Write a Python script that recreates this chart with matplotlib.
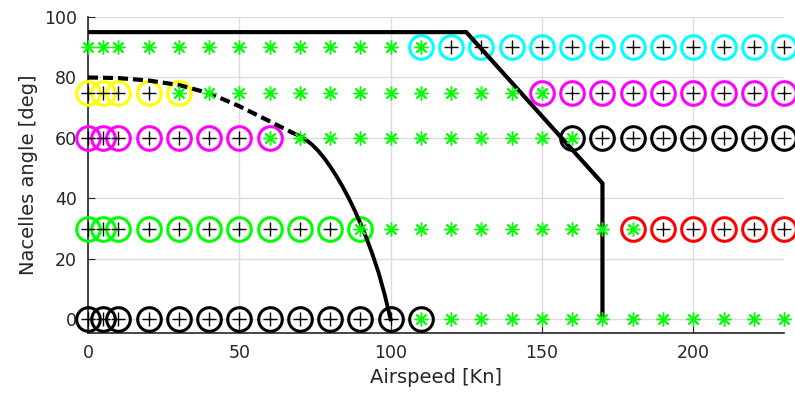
import matplotlib
matplotlib.use("Agg")
import matplotlib.pyplot as plt

# trim grid (airspeed in Kn, nacelle angle in deg)
speeds = [0, 5, 10, 20, 30, 40, 50, 60, 70, 80, 90, 100, 110, 120,
          130, 140, 150, 160, 170, 180, 190, 200, 210, 220, 230]
angles = [0, 30, 60, 75, 90]

# trimmed regions: (angle, first circle, last circle, first plus, last plus, colour)
regions = [
    (0, 0, 110, 0, 100, 'k'),
    (30, 0, 90, 0, 80, '#00ff00'),
    (30, 180, 230, 190, 230, '#ff0000'),
    (60, 0, 60, 0, 50, '#ff00ff'),
    (60, 160, 230, 170, 230, 'k'),
    (75, 0, 30, 0, 20, '#ffff00'),
    (75, 150, 230, 160, 230, '#ff00ff'),
    (90, 110, 230, 120, 230, '#00ffff'),
]

# flight envelope boundary
env_x = [0, 125, 170, 170]
env_y = [95, 95, 45, 0]

# conversion corridor (dashed upper part, solid lower part)
conv_dash_x = [0, 10, 20, 30, 40, 50, 60, 68]
conv_dash_y = [80, 79.8, 79, 77.5, 74.8, 70.5, 65.5, 61.5]
conv_solid_x = [68, 70, 72, 74, 76, 78, 80, 82, 84, 86, 88, 90, 92, 94, 96, 98, 100]
conv_solid_y = [61.5, 60.6, 59.4, 57.8, 55.8, 53.4, 50.6, 47.5, 44.1, 40.4,
                36.3, 31.8, 26.9, 21.5, 15.5, 8.3, 0]

plt.rcParams['font.family'] = 'DejaVu Sans'
fig = plt.figure(figsize=(7.95, 4.05), dpi=100)
ax = fig.add_axes([0.1107, 0.178, 0.8755, 0.780])

star = (8, 2, 0)

for a in angles:
    plus_x = []
    for r in regions:
        if r[0] == a:
            plus_x += [s for s in speeds if r[3] <= s <= r[4]]
    star_x = [s for s in speeds if s not in plus_x]
    ax.plot(star_x, [a] * len(star_x), linestyle='none', marker=star,
            markersize=10, markeredgewidth=1.0, color='#00ff00',
            zorder=5, clip_on=False)

for a, c0, c1, p0, p1, col in regions:
    cx = [s for s in speeds if c0 <= s <= c1]
    px = [s for s in speeds if p0 <= s <= p1]
    ax.plot(cx, [a] * len(cx), linestyle='none', marker='o', markersize=17,
            markerfacecolor='none', markeredgecolor=col, markeredgewidth=2.2,
            zorder=3, clip_on=False)
    ax.plot(px, [a] * len(px), linestyle='none', marker='+', markersize=10,
            markeredgewidth=1.0, color='k', zorder=5, clip_on=False)

ax.plot(env_x, env_y, color='k', lw=3, zorder=4, solid_joinstyle='miter')
ax.plot(conv_dash_x, conv_dash_y, color='k', lw=3, dashes=(2.4, 1.2), zorder=4)
ax.plot(conv_solid_x, conv_solid_y, color='k', lw=2.8, zorder=4)

ax.set_xlim(0, 230)
ax.set_ylim(-4.5, 100)
ax.set_xticks([0, 50, 100, 150, 200])
ax.set_yticks([0, 20, 40, 60, 80, 100])
ax.grid(True, color='#dcdcdc', lw=1)
ax.set_axisbelow(True)
for side in ['top', 'right']:
    ax.spines[side].set_visible(False)
for side in ['left', 'bottom']:
    ax.spines[side].set_color('#262626')
    ax.spines[side].set_linewidth(1.2)
ax.tick_params(direction='in', length=5, colors='#262626', labelsize=12.5, pad=8)
ax.set_xlabel('Airspeed [Kn]', fontsize=14, color='#262626', labelpad=4)
ax.set_ylabel('Nacelles angle [deg]', fontsize=14, color='#262626', labelpad=4)

fig.savefig('out.png', dpi=100)
